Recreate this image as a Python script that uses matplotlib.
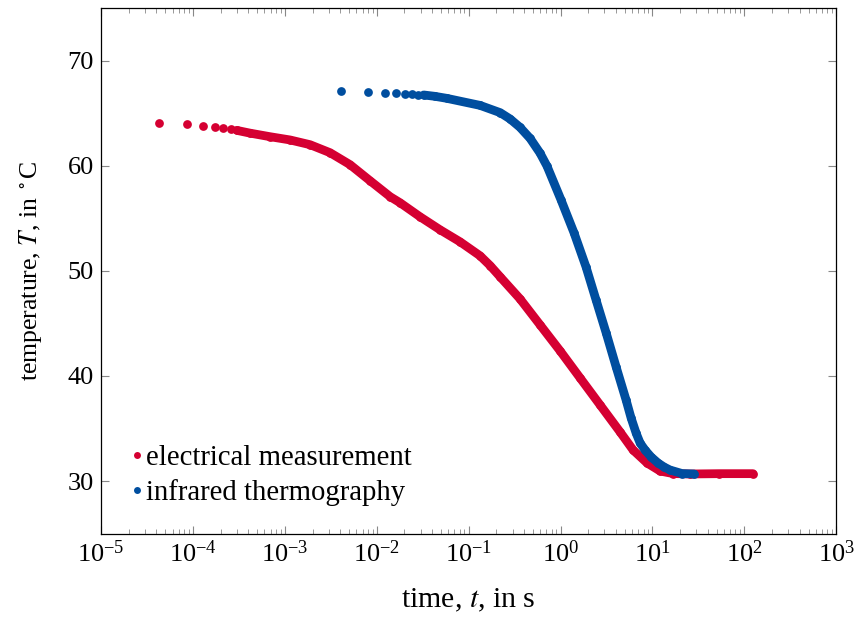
import numpy as np
import matplotlib
matplotlib.use("Agg")
import matplotlib.pyplot as plt
from matplotlib.lines import Line2D

plt.rcParams['font.family'] = ['Liberation Serif', 'DejaVu Serif']
plt.rcParams['mathtext.fontset'] = 'stix'

t_el = [4.3e-5, 8.6e-5, 1.29e-4, 1.72e-4, 2.15e-4, 2.58e-4, 3.01e-4,
        4.18e-4, 6.9e-4, 1.14e-3, 1.88e-3, 3.10e-3, 5.12e-3, 8.45e-3,
        1.40e-2, 1.79e-2, 2.96e-2, 4.89e-2, 8.06e-2, 0.133, 0.171, 0.220, 0.362,
        0.598, 0.989, 1.63, 2.69, 4.44, 6.15, 8.74, 12.1, 16.7, 25.7, 53.0, 124.0]
T_el = [64.07, 63.93, 63.81, 63.65, 63.59, 63.50, 63.36,
        63.10, 62.76, 62.45, 62.00, 61.24, 60.10, 58.57,
        57.05, 56.48, 55.14, 53.90, 52.76, 51.43, 50.50, 49.43, 47.33,
        44.86, 42.38, 39.81, 37.24, 34.67, 32.95, 31.71, 30.95, 30.71, 30.67, 30.70, 30.70]

# infrared thermography
t_ir = [4.05e-3, 8.1e-3, 1.215e-2, 1.62e-2, 2.025e-2, 2.43e-2, 2.835e-2, 3.24e-2,
        0.043, 0.0578, 0.133, 0.220, 0.282, 0.362, 0.466, 0.598, 0.713, 1.01,
        1.40, 1.89, 2.43, 3.13, 4.02, 5.16, 5.85, 6.63, 7.33, 8.30, 9.66,
        11.5, 13.4, 15.5, 21.0, 28.4]
T_ir = [67.08, 67.02, 66.95, 66.92, 66.86, 66.83, 66.76, 66.73,
        66.60, 66.41, 65.74, 65.05, 64.45, 63.65, 62.60, 61.20, 59.95, 56.76,
        53.62, 50.38, 47.24, 44.10, 40.86, 37.71, 36.00, 34.57, 33.62, 32.95, 32.29,
        31.71, 31.33, 31.05, 30.71, 30.67]

red = '#d50032'
blue = '#004e9f'
ms = 6.3

fig = plt.figure(figsize=(8.56, 6.19), dpi=100)
ax = fig.add_axes([0.118, 0.138, 0.859, 0.849])

ax.plot(t_el[6:], T_el[6:], '-', color=red, lw=ms, solid_capstyle='round',
        solid_joinstyle='round')
ax.plot(t_el, T_el, 'o', color=red, ms=ms, mew=0)
ax.plot(t_ir[7:], T_ir[7:], '-', color=blue, lw=ms, solid_capstyle='round',
        solid_joinstyle='round')
ax.plot(t_ir, T_ir, 'o', color=blue, ms=ms, mew=0)

ax.set_xscale('log')
ax.set_xlim(1e-5, 1e3)
ax.set_ylim(25, 75)
ax.set_yticks([30, 40, 50, 60, 70])
ax.set_xticks([10.0**k for k in range(-5, 4)])
ax.xaxis.set_minor_locator(matplotlib.ticker.LogLocator(base=10, subs=np.arange(2, 10), numticks=20))
ax.xaxis.set_minor_formatter(matplotlib.ticker.NullFormatter())

ax.tick_params(which='both', direction='in', top=True, right=True, color='#888888',
               labelsize=19, pad=5)
ax.tick_params(which='major', length=6, width=0.8)
ax.tick_params(which='minor', length=3.5, width=0.6)
for s in ax.spines.values():
    s.set_linewidth(0.9)

ax.set_xlabel(r'time, $t$, in s', fontsize=21.5, labelpad=14)
ax.set_ylabel(r'temperature, $T$, in $^\circ$C', fontsize=18.5, labelpad=17)

handles = [Line2D([], [], ls='', marker='o', color=red, ms=5, mew=0),
           Line2D([], [], ls='', marker='o', color=blue, ms=5, mew=0)]
ax.legend(handles, ['electrical measurement', 'infrared thermography'],
          loc='lower left', bbox_to_anchor=(0.016, 0.014), frameon=False,
          fontsize=20.7, handlelength=0.3, handletextpad=0.15, labelspacing=0.28,
          borderpad=0.2)

fig.savefig('out.png', dpi=100)
